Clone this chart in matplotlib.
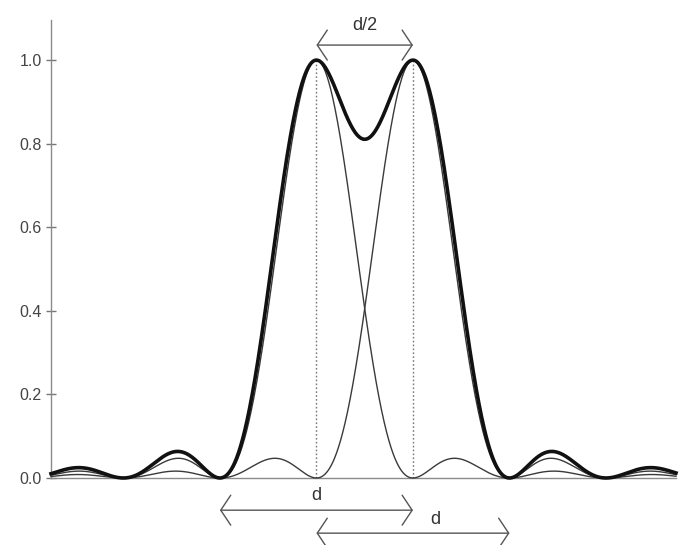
import numpy as np
import matplotlib
matplotlib.use("Agg")
import matplotlib.pyplot as plt

plt.rcParams['font.family'] = ['Liberation Sans Narrow', 'Liberation Sans', 'DejaVu Sans']

# positions of the two peaks, in units of the distance peak -> first zero
peak_positions = [0.0, 1.0]
x_limits = (-2.75, 3.725)
y_ticks = [0.0, 0.2, 0.4, 0.6, 0.8, 1.0]
y_tick_labels = ['0.0', '0.2', '0.4', '0.6', '0.8', '1.0']

# arrows: (x_start, x_end, y), labels: (text, x, y)
arrows = [(0.0, 1.0, 1.036), (-1.0, 1.0, -0.077), (0.0, 2.0, -0.132)]
labels = [('d/2', 0.5, 1.084), ('d', 0.0, -0.041), ('d', 1.23, -0.10)]

x = np.linspace(x_limits[0], x_limits[1], 1200)
single = [np.sinc(x - p) ** 2 for p in peak_positions]
total = single[0] + single[1]

fig = plt.figure(figsize=(6.79, 5.45), dpi=100)
ax = fig.add_axes([51 / 679, 67 / 545, 625 / 679, 458 / 545])

for s in single:
    ax.plot(x, s, color='#3a3a3a', lw=1.0, clip_on=False, zorder=3)
ax.plot(x, total, color='#111111', lw=2.6, clip_on=False, zorder=4)

for p in peak_positions:
    ax.plot([p, p], [0, 1.0], color='#777777', lw=1.0, ls=(0, (1.2, 1.6)), zorder=2)

ax.set_xlim(*x_limits)
ax.set_ylim(0, 1.096)

for side in ('top', 'right'):
    ax.spines[side].set_visible(False)
for side in ('left', 'bottom'):
    ax.spines[side].set_color('#8a8a8a')
    ax.spines[side].set_linewidth(1.0)

ax.set_xticks([])
ax.set_yticks(y_ticks)
ax.set_yticklabels(y_tick_labels)
ax.tick_params(axis='y', direction='inout', length=7, width=1, color='#777777',
               labelsize=11.5, labelcolor='#444444', pad=3)

for x0, x1, y in arrows:
    ax.annotate('', xy=(x0, y), xytext=(x1, y), xycoords='data', annotation_clip=False,
                arrowprops=dict(arrowstyle='<->, head_length=0.36, head_width=0.54',
                                mutation_scale=20, color='#555555', lw=1.0,
                                shrinkA=0, shrinkB=0))

for text, tx, ty in labels:
    ax.text(tx, ty, text, ha='center', va='center', fontsize=13, color='#333333',
            clip_on=False)

fig.savefig('out.png', dpi=100)
